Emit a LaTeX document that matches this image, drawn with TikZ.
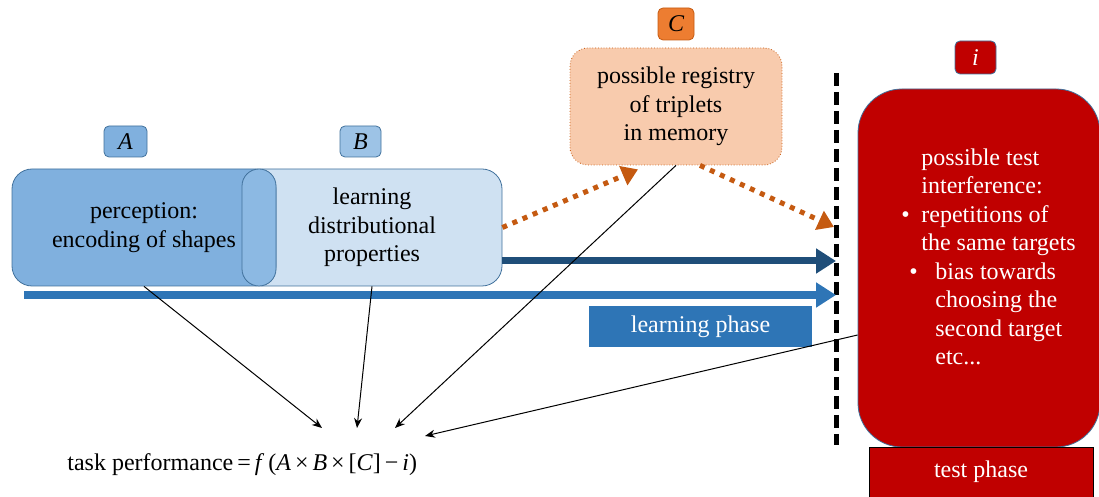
\documentclass[tikz,border=0pt]{standalone}
\usepackage{fontspec}
\setmainfont{Liberation Serif}
\usetikzlibrary{arrows.meta,calc}

\definecolor{percblue}{RGB}{128,176,222}
\definecolor{pillblue}{RGB}{140,185,227}
\definecolor{learnblue}{RGB}{207,225,242}
\definecolor{tagblue}{RGB}{157,195,230}
\definecolor{edgeblue}{RGB}{65,113,156}
\definecolor{flowblue}{RGB}{46,117,182}
\definecolor{deepblue}{RGB}{31,78,121}
\definecolor{memorange}{RGB}{248,203,173}
\definecolor{tagorange}{RGB}{237,125,49}
\definecolor{rustorange}{RGB}{197,90,17}
\definecolor{testred}{RGB}{192,0,0}

\tikzset{
  txt/.style={font=\fontsize{12}{14.25}\selectfont},
  tag/.style={txt,font=\fontsize{12}{14.25}\selectfont\itshape,rounded corners=2.5pt,inner sep=0pt,minimum height=15.5pt},
  phasebox/.style={txt,text=white,inner sep=0pt},
  bigarrow/.style={line width=#1,-{Triangle[length=10pt,width=12pt]}},
  memarrow/.style={rustorange,line width=2.5pt,dash pattern=on 2.5pt off 3pt,-{Triangle[length=8pt,width=10pt]}},
  factor/.style={black,line width=0.5pt,-{Stealth[length=5pt,width=4pt]}}
}

\begin{document}
\begin{tikzpicture}[x=0.5pt,y=-0.5pt]
  \useasboundingbox (0,0) rectangle (1099,497);

  % learning block: perception part and distributional part
  \node[txt,draw=edgeblue,fill=learnblue,rounded corners=10pt,minimum width=130pt,minimum height=58.5pt,align=center] (learn) at (372,227.5) {learning\\distributional\\properties};
  \node[txt,draw=edgeblue,fill=percblue,rounded corners=10pt,minimum width=132pt,minimum height=58.5pt,align=center] (percep) at (144,227.5) {perception:\\encoding of shapes};
  \node[draw=edgeblue,fill=pillblue,rounded corners=8.5pt,minimum width=17pt,minimum height=58.5pt,inner sep=0pt] (pill) at (259,227.5) {};

  \node[tag,draw=edgeblue,fill=percblue,minimum width=21.5pt] (tagA) at (125.5,141.5) {A};
  \node[tag,draw=edgeblue,fill=tagblue,minimum width=20.5pt] (tagB) at (360.5,141.5) {B};

  % memory
  \node[txt,draw=rustorange,densely dotted,fill=memorange,rounded corners=9pt,minimum width=106pt,minimum height=58.5pt,align=center] (cbox) at (676,106.5) {possible registry\\of triplets\\in memory};
  \node[tag,draw=rustorange,fill=tagorange,minimum width=18pt,minimum height=16pt] (tagC) at (676,24) {C};

  % test
  \node[draw=edgeblue,fill=testred,rounded corners=22pt,minimum width=121pt,minimum height=179pt] (ibox) at (979,268) {};
  \node[txt,text=white,align=left,inner sep=0pt,anchor=north west] (itext) at (901,148) {%
    \hspace*{10pt}possible test\\
    \hspace*{10pt}interference:\\
    \makebox[10pt][l]{\textbullet}repetitions of\\
    \hspace*{10pt}the same targets\\
    \hspace*{4pt}\makebox[13pt][l]{\textbullet}bias towards\\
    \hspace*{17pt}choosing the\\
    \hspace*{17pt}second target\\
    \hspace*{17pt}etc...};
  \node[tag,draw=edgeblue,fill=testred,text=white,minimum width=20.5pt,minimum height=16.5pt] (tagI) at (975.5,57.5) {i};
  \node[phasebox,draw=black,fill=testred,minimum width=112pt,minimum height=25pt] (testph) at (981,472) {test phase};

  % phases
  \coordinate (dashTop) at (836,73);
  \coordinate (dashBot) at (836,445);
  \draw[line width=2.5pt,dash pattern=on 6.5pt off 3pt] (dashTop) -- (dashBot);

  \coordinate (deepEnd) at (836,261);
  \coordinate (flowStart) at (24,295);
  \coordinate (flowEnd) at (836,295);
  \draw[bigarrow=3.5pt,deepblue] (learn.east |- deepEnd) -- (deepEnd);
  \draw[bigarrow=4pt,flowblue] (flowStart) -- (flowEnd);
  \node[phasebox,fill=flowblue,minimum width=111.5pt,minimum height=20.5pt] (learnph) at (700.5,326.5) {learning phase};

  \coordinate (memEnd) at (834,227);
  \draw[memarrow] (learn.east) -- ($(cbox.south)+(-38,4)$);
  \draw[memarrow] ($(cbox.south)+(24,0)$) -- (memEnd);

  % task performance
  \node[txt,anchor=base west,inner sep=0pt] (perf) at (67,471)
    {task performance\,=\,\textit{f}\,(\textit{A}\,×\,\textit{B}\,×\,[\textit{C}]\,−\,\textit{i})};
  \coordinate (tipA) at (322,428);
  \coordinate (tipB) at (357,428);
  \coordinate (tipC) at (395,428);
  \coordinate (tipI) at (425,436);
  \draw[factor] (percep.south) -- (tipA);
  \draw[factor] (learn.south) -- (tipB);
  \draw[factor] (cbox.south) -- (tipC);
  \draw[factor] ([yshift=-33.5pt]ibox.west) -- (tipI);
\end{tikzpicture}
\end{document}
